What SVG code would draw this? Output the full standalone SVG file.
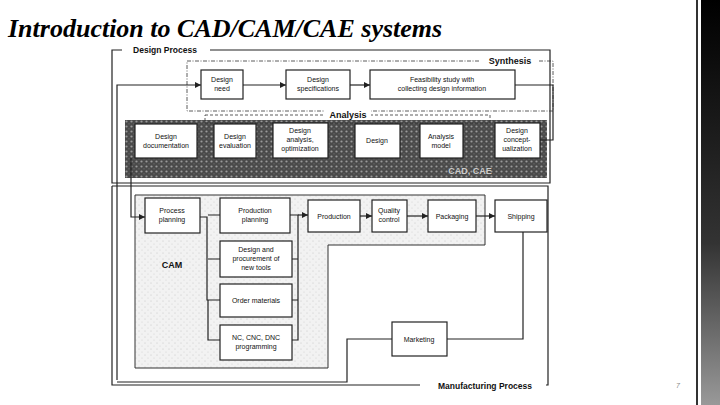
<svg xmlns="http://www.w3.org/2000/svg" width="720" height="405" viewBox="0 0 720 405">
<defs>
<style>
text{font-family:"Liberation Sans",Arial,sans-serif;font-size:7px;fill:#111;text-anchor:middle}
.b{fill:#fff;stroke:#222;stroke-width:1.2}
.lbl{font-weight:bold;font-size:9px}
.c{fill:none;stroke:#222;stroke-width:1.2}
</style>
<linearGradient id="strip" x1="0" y1="0" x2="0" y2="1"><stop offset="0" stop-color="#000"/><stop offset="0.6" stop-color="#333"/><stop offset="1" stop-color="#999"/></linearGradient>
<pattern id="dots" width="5" height="5" patternUnits="userSpaceOnUse"><rect width="5" height="5" fill="#4a4a4a"/><circle cx="1.5" cy="1.5" r="1.1" fill="#9a9a9a"/><circle cx="4" cy="3.8" r="0.6" fill="#777"/></pattern>
<pattern id="spk" width="6" height="6" patternUnits="userSpaceOnUse"><rect width="6" height="6" fill="#f2f2f2"/><circle cx="1" cy="1" r="0.5" fill="#bbb"/><circle cx="4" cy="4" r="0.5" fill="#ccc"/></pattern>
<marker id="a" markerWidth="6" markerHeight="6" refX="5" refY="3" orient="auto"><path d="M0,0.5 L5,3 L0,5.5Z" fill="#222"/></marker>
</defs>
<rect width="720" height="405" fill="#fff"/>
<rect x="696" y="0" width="2" height="405" fill="#333"/>
<rect x="701" y="0" width="19" height="405" fill="url(#strip)"/>
<text x="678" y="388" style="font-size:7px;fill:#888;font-style:italic">7</text>
<text x="8" y="37" style="font-family:'Liberation Serif',serif;font-size:26px;font-weight:bold;font-style:italic;text-anchor:start;fill:#000">Introduction to CAD/CAM/CAE systems</text>

<g id="frames">
<path class="c" d="M122,50 H112 V183 H550 V50 H210" stroke-width="1.6"/>
<text x="165" y="53" class="lbl" style="font-size:8.5px">Design Process</text>
<rect x="187" y="61" width="366" height="50" fill="none" stroke="#333" stroke-dasharray="4,1.5,1,1.5" stroke-width="0.8"/>
<rect x="480" y="56" width="58" height="10" fill="#fff"/>
<text x="510" y="64" class="lbl">Synthesis</text>
<rect x="125" y="120" width="422" height="58" fill="url(#dots)"/>
<rect x="205" y="115" width="285" height="8" fill="none" stroke="#333" stroke-dasharray="3,2" stroke-width="0.8"/>
<rect x="325" y="109" width="46" height="11" fill="#fff"/>
<text x="348" y="118" class="lbl">Analysis</text>
<text x="470" y="174" class="lbl" style="fill:#ccc">CAD, CAE</text>
<path class="c" d="M112,186 H548 V385 H545 M425,385 H112 V186" stroke-width="1.6"/>
<rect x="420" y="380" width="126" height="10" fill="#fff"/>
<text x="485" y="389" class="lbl" style="font-size:8.5px">Manufacturing Process</text>
<path d="M135,195 H485 V245 H328 V368 H135Z" fill="url(#spk)" stroke="#333" stroke-width="1"/>
<text x="172" y="268" class="lbl">CAM</text>
</g>

<g id="connectors">
<path class="c" d="M515,85 H553 V140 H540"/>
<path class="c" d="M243,85 H286" marker-end="url(#a)"/>
<path class="c" d="M350,85 H370" marker-end="url(#a)"/>
<path class="c" d="M117,380 V85 H201" marker-end="url(#a)"/>
<path class="c" d="M117,382 H347 V339 H392"/>
<path class="c" d="M447,339 H523 V232"/>
<path class="c" d="M131,158 V217 H145" marker-end="url(#a)"/>
<path class="c" d="M200,217 H207 V300 H220"/>
<path class="c" d="M208,300 V340 H220 M208,215 H220 M208,259 H220"/>
<path class="c" d="M290,215 H298 V340 H292 M292,259 H298 M292,300 H298"/>
<path class="c" d="M298,215 H308" marker-end="url(#a)"/>
<path class="c" d="M360,216 H372" marker-end="url(#a)"/>
<path class="c" d="M407,216 H428" marker-end="url(#a)"/>
<path class="c" d="M476,216 H495" marker-end="url(#a)"/>
</g>

<g id="design-need"><rect class="b" x="201" y="70" width="42" height="29"/><text x="222" y="82">Design</text><text x="222" y="91">need</text></g>
<g id="design-spec"><rect class="b" x="286" y="70" width="64" height="29"/><text x="318" y="82">Design</text><text x="318" y="91">specifications</text></g>
<g id="feasibility"><rect class="b" x="370" y="70" width="145" height="29"/><text x="442" y="82">Feasibility study with</text><text x="442" y="91">collecting design information</text></g>
<g id="design-doc"><rect class="b" x="135" y="124" width="62" height="34"/><text x="166" y="139">Design</text><text x="166" y="148">documentation</text></g>
<g id="design-eval"><rect class="b" x="214" y="124" width="42" height="34"/><text x="235" y="139">Design</text><text x="235" y="148">evaluation</text></g>
<g id="design-analysis"><rect class="b" x="273" y="123" width="55" height="35"/><text x="300" y="133">Design</text><text x="300" y="142">analysis,</text><text x="300" y="151">optimization</text></g>
<g id="design"><rect class="b" x="355" y="124" width="45" height="34"/><text x="377" y="143">Design</text></g>
<g id="analysis-model"><rect class="b" x="420" y="124" width="43" height="34"/><text x="441" y="139">Analysis</text><text x="441" y="148">model</text></g>
<g id="design-concept"><rect class="b" x="495" y="123" width="45" height="35"/><text x="517" y="133">Design</text><text x="517" y="142">concept-</text><text x="517" y="151">ualization</text></g>

<g id="process-planning"><rect class="b" x="145" y="198" width="55" height="35"/><text x="172" y="213">Process</text><text x="172" y="222">planning</text></g>
<g id="production-planning"><rect class="b" x="220" y="198" width="70" height="35"/><text x="255" y="213">Production</text><text x="255" y="222">planning</text></g>
<g id="design-procurement"><rect class="b" x="220" y="241" width="72" height="36"/><text x="256" y="252">Design and</text><text x="256" y="261">procurement of</text><text x="256" y="270">new tools</text></g>
<g id="order-materials"><rect class="b" x="220" y="284" width="72" height="33"/><text x="256" y="303">Order materials</text></g>
<g id="nc-programming"><rect class="b" x="220" y="325" width="72" height="35"/><text x="256" y="340">NC, CNC, DNC</text><text x="256" y="349">programming</text></g>
<g id="production"><rect class="b" x="308" y="200" width="52" height="32"/><text x="334" y="219">Production</text></g>
<g id="quality"><rect class="b" x="372" y="200" width="35" height="32"/><text x="389" y="213">Quality</text><text x="389" y="222">control</text></g>
<g id="packaging"><rect class="b" x="428" y="200" width="48" height="32"/><text x="452" y="219">Packaging</text></g>
<g id="shipping"><rect class="b" x="495" y="200" width="52" height="32"/><text x="521" y="219">Shipping</text></g>
<g id="marketing"><rect class="b" x="392" y="322" width="55" height="34"/><text x="419" y="342">Marketing</text></g>
</svg>
